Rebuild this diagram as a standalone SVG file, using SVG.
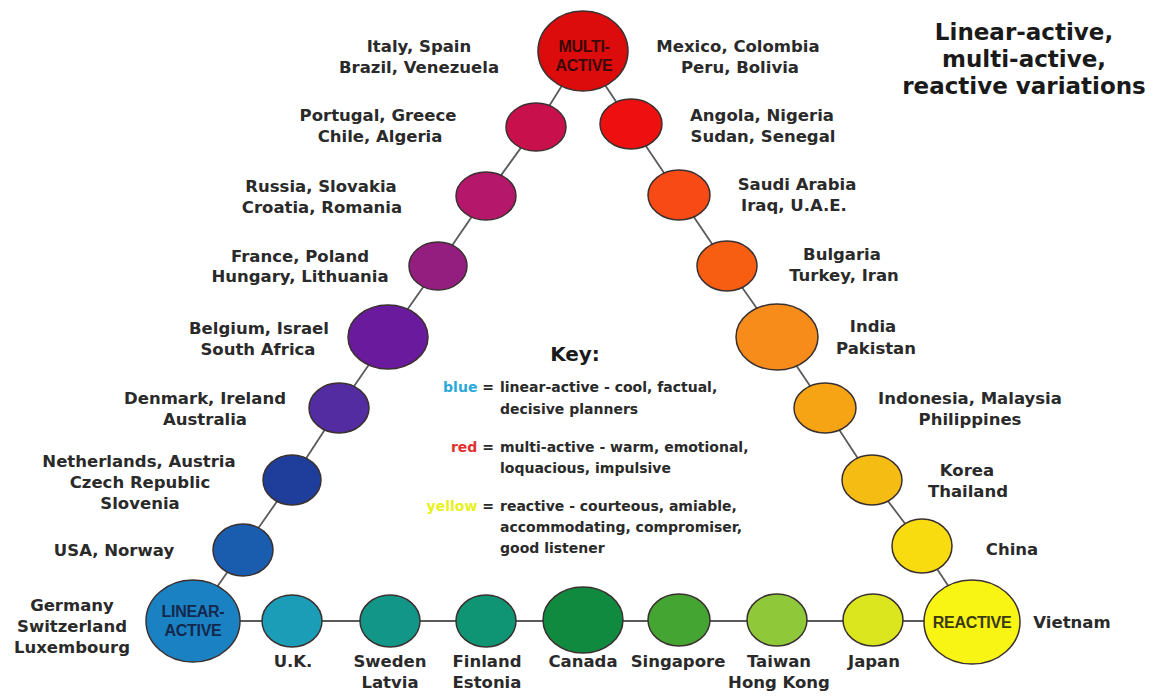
<svg xmlns="http://www.w3.org/2000/svg" width="1160" height="696" viewBox="0 0 1160 696">
<style>
.n{stroke:#3a3030;stroke-width:1.5}
.lbl{font-family:"DejaVu Sans",Verdana,sans-serif;font-weight:bold;font-size:16.5px;fill:#2a2a2a;text-anchor:middle}
.in{font-family:"Liberation Sans",Arial,sans-serif;font-weight:bold;font-size:16px;text-anchor:middle;letter-spacing:-0.3px}
.key{font-family:"DejaVu Sans",Verdana,sans-serif;font-weight:bold;font-size:14px;fill:#2a2a2a}
.ttl{font-family:"DejaVu Sans",Verdana,sans-serif;font-weight:bold;font-size:23px;fill:#1a1a1a;text-anchor:middle}
.con{fill:none;stroke:#5a5a5a;stroke-width:1.8}
</style>
<rect width="1160" height="696" fill="#ffffff"/>
<g id="connectors">
<polyline class="con" points="583,52 536,127 486,196 438,266 388,337 339,408 292,480 243,550 193,621"/>
<polyline class="con" points="583,52 631,124 679,195 727,266 777,337 825,408 872,480 922,546 972,622"/>
<polyline class="con" points="193,621 292,621 390,621 486,621 583,621 679,621 777,621 873,621 972,621"/>
</g>
<g id="multi-active"><ellipse class="n" cx="583" cy="51" rx="45" ry="40" fill="#dc0c0c"/><text class="in" x="584" y="52" fill="#3a0808">MULTI-</text><text class="in" x="584" y="71" fill="#3a0808">ACTIVE</text>
<text class="lbl" x="419" y="52">Italy, Spain</text><text class="lbl" x="419" y="73">Brazil, Venezuela</text>
<text class="lbl" x="738" y="52">Mexico, Colombia</text><text class="lbl" x="740" y="73">Peru, Bolivia</text></g>
<g id="portugal"><ellipse class="n" cx="536" cy="127" rx="30" ry="24" fill="#c8104c"/><text class="lbl" x="378" y="121">Portugal, Greece</text><text class="lbl" x="380" y="142">Chile, Algeria</text></g>
<g id="russia"><ellipse class="n" cx="486" cy="196" rx="30" ry="24" fill="#b5186a"/><text class="lbl" x="321" y="192">Russia, Slovakia</text><text class="lbl" x="322" y="213">Croatia, Romania</text></g>
<g id="france"><ellipse class="n" cx="438" cy="266" rx="29" ry="24" fill="#941e80"/><text class="lbl" x="300" y="262">France, Poland</text><text class="lbl" x="300" y="282">Hungary, Lithuania</text></g>
<g id="belgium"><ellipse class="n" cx="388" cy="337" rx="40" ry="32" fill="#6a1a9c"/><text class="lbl" x="259" y="334">Belgium, Israel</text><text class="lbl" x="258" y="355">South Africa</text></g>
<g id="denmark"><ellipse class="n" cx="339" cy="408" rx="30" ry="25" fill="#522ca0"/><text class="lbl" x="205" y="404">Denmark, Ireland</text><text class="lbl" x="205" y="425">Australia</text></g>
<g id="netherlands"><ellipse class="n" cx="292" cy="480" rx="29" ry="25" fill="#1f3d9a"/><text class="lbl" x="139" y="467">Netherlands, Austria</text><text class="lbl" x="140" y="488">Czech Republic</text><text class="lbl" x="140" y="509">Slovenia</text></g>
<g id="usa"><ellipse class="n" cx="243" cy="550" rx="30" ry="26" fill="#1a5cae"/><text class="lbl" x="114" y="556">USA, Norway</text></g>
<g id="linear-active"><ellipse class="n" cx="193" cy="621" rx="47" ry="41" fill="#1a82c2"/><text class="in" x="193" y="617" fill="#14284e">LINEAR-</text><text class="in" x="193" y="636" fill="#14284e">ACTIVE</text>
<text class="lbl" x="72" y="611">Germany</text><text class="lbl" x="72" y="632">Switzerland</text><text class="lbl" x="72" y="653">Luxembourg</text></g>
<g id="angola"><ellipse class="n" cx="631" cy="124" rx="31" ry="25" fill="#ee1010"/><text class="lbl" x="762" y="121">Angola, Nigeria</text><text class="lbl" x="763" y="142">Sudan, Senegal</text></g>
<g id="saudi"><ellipse class="n" cx="679" cy="195" rx="31" ry="25" fill="#f84a14"/><text class="lbl" x="797" y="190">Saudi Arabia</text><text class="lbl" x="794" y="211">Iraq, U.A.E.</text></g>
<g id="bulgaria"><ellipse class="n" cx="727" cy="266" rx="30" ry="25" fill="#f85e12"/><text class="lbl" x="842" y="260">Bulgaria</text><text class="lbl" x="844" y="281">Turkey, Iran</text></g>
<g id="india"><ellipse class="n" cx="777" cy="337" rx="41" ry="33" fill="#f78c1a"/><text class="lbl" x="873" y="332">India</text><text class="lbl" x="876" y="354">Pakistan</text></g>
<g id="indonesia"><ellipse class="n" cx="825" cy="408" rx="31" ry="25" fill="#f6a314"/><text class="lbl" x="970" y="404">Indonesia, Malaysia</text><text class="lbl" x="970" y="425">Philippines</text></g>
<g id="korea"><ellipse class="n" cx="872" cy="480" rx="30" ry="25" fill="#f5bc14"/><text class="lbl" x="967" y="476">Korea</text><text class="lbl" x="968" y="497">Thailand</text></g>
<g id="china"><ellipse class="n" cx="922" cy="546" rx="30" ry="27" fill="#f8dc10"/><text class="lbl" x="1012" y="555">China</text></g>
<g id="reactive"><ellipse class="n" cx="972" cy="622" rx="48" ry="42" fill="#f8f414"/><text class="in" x="972" y="628" fill="#3a3a10">REACTIVE</text><text class="lbl" x="1072" y="628">Vietnam</text></g>
<g id="uk"><ellipse class="n" cx="292" cy="621" rx="30" ry="26" fill="#1b9db8"/><text class="lbl" x="293" y="667">U.K.</text></g>
<g id="sweden"><ellipse class="n" cx="390" cy="621" rx="30" ry="26" fill="#129688"/><text class="lbl" x="390" y="667">Sweden</text><text class="lbl" x="390" y="688">Latvia</text></g>
<g id="finland"><ellipse class="n" cx="486" cy="621" rx="30" ry="26" fill="#0f9474"/><text class="lbl" x="487" y="667">Finland</text><text class="lbl" x="487" y="688">Estonia</text></g>
<g id="canada"><ellipse class="n" cx="583" cy="620" rx="40" ry="33" fill="#0f8a3e"/><text class="lbl" x="583" y="667">Canada</text></g>
<g id="singapore"><ellipse class="n" cx="679" cy="620" rx="31" ry="26" fill="#45a532"/><text class="lbl" x="678" y="667">Singapore</text></g>
<g id="taiwan"><ellipse class="n" cx="777" cy="620" rx="30" ry="26" fill="#8fc93a"/><text class="lbl" x="779" y="667">Taiwan</text><text class="lbl" x="779" y="688">Hong Kong</text></g>
<g id="japan"><ellipse class="n" cx="873" cy="620" rx="30" ry="26" fill="#dce61e"/><text class="lbl" x="874" y="667">Japan</text></g>
<g id="title"><text class="ttl" x="1024" y="40">Linear-active,</text><text class="ttl" x="1024" y="67">multi-active,</text><text class="ttl" x="1024" y="94">reactive variations</text></g>
<g id="key">
<text x="575" y="361" style="font-family:'DejaVu Sans',Verdana,sans-serif;font-weight:bold;font-size:20px;fill:#1a1a1a;text-anchor:middle">Key:</text>
<text class="key" x="494" y="392" text-anchor="end"><tspan fill="#2aa8d8">blue</tspan> =</text>
<text class="key" x="500" y="392">linear-active - cool, factual,</text>
<text class="key" x="500" y="414">decisive planners</text>
<text class="key" x="494" y="452" text-anchor="end"><tspan fill="#e03030">red</tspan> =</text>
<text class="key" x="500" y="452">multi-active - warm, emotional,</text>
<text class="key" x="500" y="473">loquacious, impulsive</text>
<text class="key" x="494" y="511" text-anchor="end"><tspan fill="#e8f020">yellow</tspan> =</text>
<text class="key" x="500" y="511">reactive - courteous, amiable,</text>
<text class="key" x="500" y="532">accommodating, compromiser,</text>
<text class="key" x="500" y="553">good listener</text>
</g>
</svg>
